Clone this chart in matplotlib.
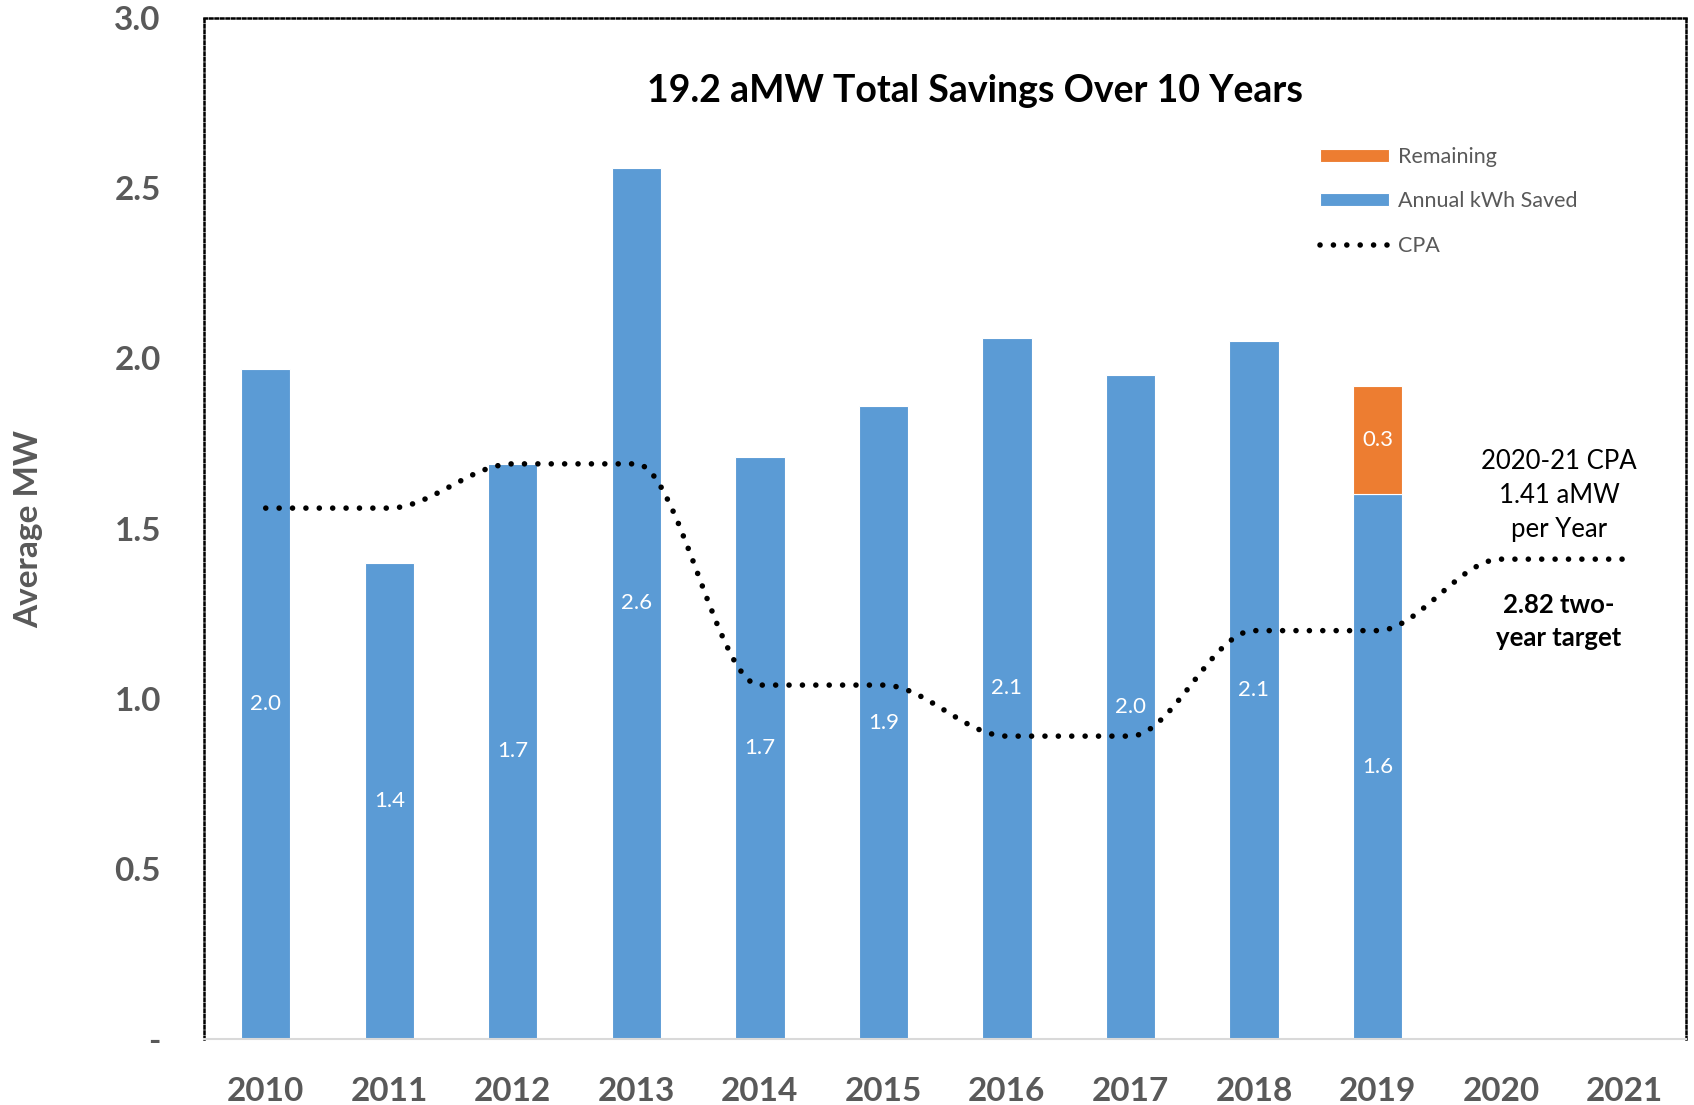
import matplotlib.pyplot as plt
from matplotlib.path import Path
from matplotlib.patches import PathPatch
import numpy as np

plt.rcParams['font.family'] = ['Lato', 'DejaVu Sans']

# data
years = ['2010', '2011', '2012', '2013', '2014', '2015', '2016', '2017', '2018', '2019', '2020', '2021']
saved = [1.97, 1.40, 1.69, 2.56, 1.71, 1.86, 2.06, 1.95, 2.05, 1.60]
saved_labels = ['2.0', '1.4', '1.7', '2.6', '1.7', '1.9', '2.1', '2.0', '2.1', '1.6']
remaining = [0.32]
remaining_labels = ['0.3']
cpa = [1.56, 1.56, 1.69, 1.69, 1.04, 1.04, 0.89, 0.89, 1.20, 1.20, 1.41, 1.41]
yticks = [0, 0.5, 1.0, 1.5, 2.0, 2.5, 3.0]
ytick_labels = ['-', '0.5', '1.0', '1.5', '2.0', '2.5', '3.0']

blue = '#5B9BD5'
orange = '#ED7D31'
grey = '#595959'

fig = plt.figure(figsize=(16.94, 11.05), dpi=100)
ax = fig.add_axes([0.1204, 0.0597, 0.875, 0.924])

x = np.arange(len(years))
xs = x[:len(saved)]
b1 = ax.bar(xs, saved, width=0.4, color=blue, edgecolor='white', linewidth=0.8,
            label='Annual kWh Saved', zorder=2)
b2 = ax.bar(xs[-1:], remaining, width=0.4, bottom=saved[-1:], color=orange,
            edgecolor='white', linewidth=0.8, label='Remaining', zorder=2)

for xi, v, t in zip(xs, saved, saved_labels):
    ax.text(xi, v / 2, t, ha='center', va='center', color='white', fontsize=16, zorder=4)
for xi, base, v, t in zip(xs[-1:], saved[-1:], remaining, remaining_labels):
    ax.text(xi, base + v / 2, t, ha='center', va='center', color='white', fontsize=16, zorder=4)

# smoothed CPA line: cubic Bezier through the points, monotone tangents
px = x.astype(float)
py = np.array(cpa, dtype=float)
slopes = np.diff(py) / np.diff(px)
tang = np.zeros(len(py))
for i in range(1, len(py) - 1):
    if slopes[i - 1] * slopes[i] > 0:
        tang[i] = (slopes[i - 1] + slopes[i]) / 2
verts = [(px[0], py[0])]
codes = [Path.MOVETO]
for i in range(len(py) - 1):
    h = (px[i + 1] - px[i]) / 3
    verts += [(px[i] + h, py[i] + tang[i] * h),
              (px[i + 1] - h, py[i + 1] - tang[i + 1] * h),
              (px[i + 1], py[i + 1])]
    codes += [Path.CURVE4] * 3
cpa_patch = PathPatch(Path(verts, codes), facecolor='none', edgecolor='black',
                      linewidth=4, linestyle=(0, (0.01, 2.4)), capstyle='round', zorder=3)
ax.add_patch(cpa_patch)
cpa_handle, = ax.plot([], [], color='black', linewidth=4, linestyle=(0, (0.01, 2.4)),
                      dash_capstyle='round', label='CPA')

ax.set_xlim(-0.5, len(years) - 0.5)
ax.set_ylim(0, 3.0)
ax.set_xticks(x)
ax.set_xticklabels(years, fontsize=24, fontweight='bold', color=grey)
ax.set_yticks(yticks)
ax.set_yticklabels(ytick_labels, fontsize=24, fontweight='bold', color=grey)
ax.tick_params(axis='both', length=0)
ax.tick_params(axis='x', pad=27)
ax.tick_params(axis='y', pad=31)
ax.set_ylabel('Average MW', fontsize=24, fontweight='bold', color=grey, labelpad=51)

for side in ['left', 'top', 'right']:
    ax.spines[side].set_linestyle((0, (1, 1.2)))
    ax.spines[side].set_linewidth(1.8)
    ax.spines[side].set_color('black')
ax.spines['bottom'].set_color('#D9D9D9')
ax.spines['bottom'].set_linewidth(1.5)
ax.spines['bottom'].set_zorder(5)

ax.text(0.52, 0.929, '19.2 aMW Total Savings Over 10 Years', transform=ax.transAxes,
        ha='center', va='center', fontsize=27, fontweight='bold', color='black')

ax.text(10.47, 1.597, '2020-21 CPA\n1.41 aMW\nper Year', ha='center', va='center',
        fontsize=18.5, color='black', linespacing=1.45)
ax.text(10.47, 1.227, '2.82 two-\nyear target', ha='center', va='center',
        fontsize=18.5, fontweight='bold', color='black', linespacing=1.45)

ax.legend(handles=[b2, b1, cpa_handle], loc='upper left', bbox_to_anchor=(0.74, 0.893),
          frameon=False, fontsize=15.5, labelcolor=grey, handlelength=3.2,
          handleheight=0.55, labelspacing=1.15, handletextpad=0.4)

fig.savefig('out.png', dpi=100)
